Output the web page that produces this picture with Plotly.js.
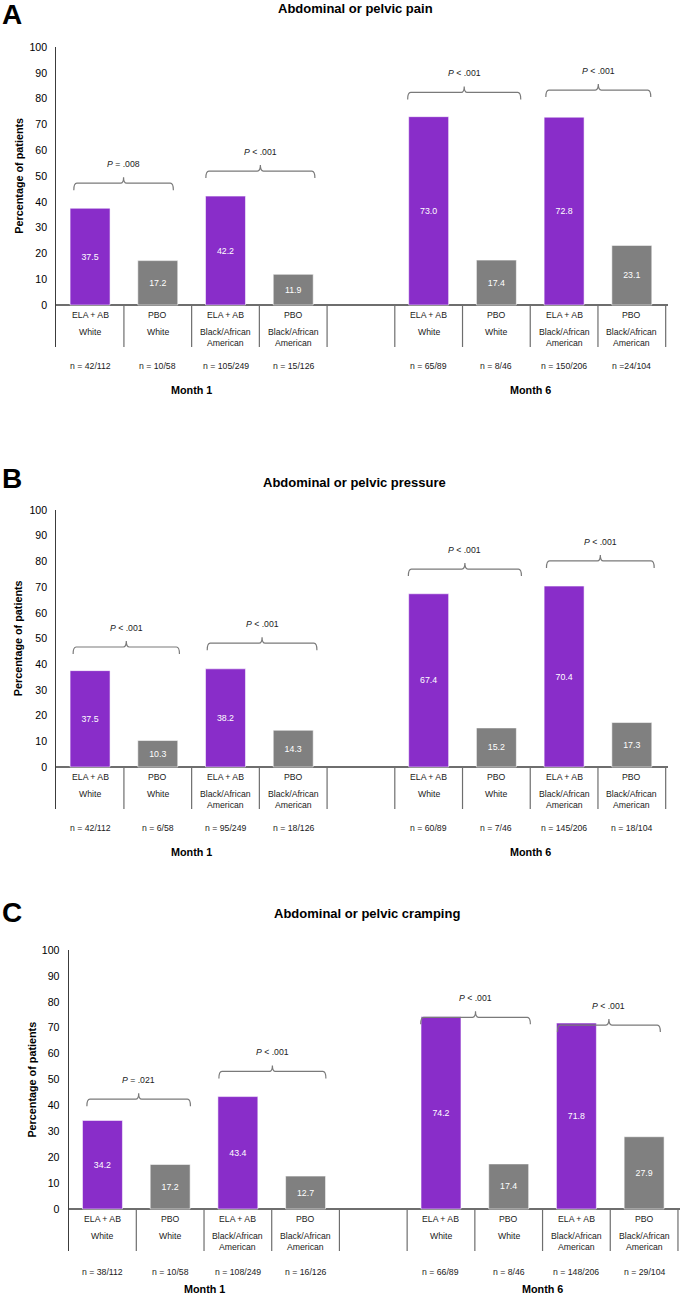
<!DOCTYPE html>
<html><head><meta charset="utf-8">
<script src="https://cdn.plot.ly/plotly-3.0.1.min.js"></script>
<style>html,body{margin:0;padding:0;background:#fff}#chart{width:680px;height:1298px}</style>
</head><body><div id="chart"></div>
<script>
// ---------- data ----------
const treatments = ['ELA + AB', 'PBO', 'ELA + AB', 'PBO', 'ELA + AB', 'PBO', 'ELA + AB', 'PBO'];
const races = ['White', 'White', 'Black/African<br>American', 'Black/African<br>American',
               'White', 'White', 'Black/African<br>American', 'Black/African<br>American'];
const months = ['Month 1', 'Month 6'];

const titleA = 'Abdominal or pelvic pain';
const titleB = 'Abdominal or pelvic pressure';
const titleC = 'Abdominal or pelvic cramping';

const painValues = [37.5, 17.2, 42.2, 11.9, 73.0, 17.4, 72.8, 23.1];
const pressureValues = [37.5, 10.3, 38.2, 14.3, 67.4, 15.2, 70.4, 17.3];
const crampingValues = [34.2, 17.2, 43.4, 12.7, 74.2, 17.4, 71.8, 27.9];

const painN = ['n = 42/112', 'n = 10/58', 'n = 105/249', 'n = 15/126', 'n = 65/89', 'n = 8/46', 'n = 150/206', 'n =24/104'];
const pressureN = ['n = 42/112', 'n = 6/58', 'n = 95/249', 'n = 18/126', 'n = 60/89', 'n = 7/46', 'n = 145/206', 'n = 18/104'];
const crampingN = ['n = 38/112', 'n = 10/58', 'n = 108/249', 'n = 16/126', 'n = 66/89', 'n = 8/46', 'n = 148/206', 'n = 29/104'];

const painP = ['= .008', '< .001', '< .001', '< .001'];
const pressureP = ['< .001', '< .001', '< .001', '< .001'];
const crampingP = ['= .021', '< .001', '< .001', '< .001'];

const yTicks = [0, 10, 20, 30, 40, 50, 60, 70, 80, 90, 100];

// ---------- layout config ----------
const W = 680, H = 1298;
const PURPLE = '#892dc9', GRAY = '#808080';
const FONT = 'Liberation Sans, Arial, Helvetica, sans-serif';
const UNIT = 67.72; // px per category

const panels = [
  {letter: 'A', title: titleA, values: painValues, n: painN, p: painP,
   brackets: [[-0.24, 1.23, 47.2], [1.71, 3.32, 51.9], [4.69, 6.36, 82.4], [6.73, 8.28, 83.3]],
   left: 56.2, top: 47, base: 305, bottom: 347, titleX: 355, titleY: 8, letterY: 14,
   nShift: -61, monthShift: -85},
  {letter: 'B', title: titleB, values: pressureValues, n: pressureN, p: pressureP,
   brackets: [[-0.25, 1.32, 46.7], [1.73, 3.35, 48.2], [4.70, 6.37, 77.0], [6.74, 8.33, 80.2]],
   left: 56.2, top: 510, base: 767, bottom: 809, titleX: 354.5, titleY: 482, letterY: 478,
   nShift: -61, monthShift: -85},
  {letter: 'C', title: titleC, values: crampingValues, n: crampingN, p: crampingP,
   brackets: [[-0.23, 1.30, 42.4], [1.72, 3.30, 53.1], [4.70, 6.32, 74.0], [6.72, 8.24, 71.0]],
   left: 68.6, top: 950, base: 1209, bottom: 1251, titleX: 367, titleY: 913, letterY: 912,
   nShift: -63, monthShift: -80}
];

const xs = treatments.map((_, i) => i + (i >= 4 ? 1 : 0));
const data = [];
const layout = {
  width: W, height: H, margin: {l: 0, r: 0, t: 0, b: 0},
  paper_bgcolor: '#fff', plot_bgcolor: 'rgba(0,0,0,0)',
  font: {family: FONT, color: '#000'},
  showlegend: false, annotations: [], shapes: []
};

panels.forEach((pn, k) => {
  const sfx = k === 0 ? '' : String(k + 1);
  const xa = 'x' + sfx, ya = 'y' + sfx;
  const pxPerUnit = (pn.base - pn.top) / 100;
  const yMin = -(pn.bottom - pn.base) / pxPerUnit;
  const xMax = 8.53;
  layout['xaxis' + sfx] = {
    domain: [pn.left / W, Math.min(1, (pn.left + (xMax + 0.5) * UNIT) / W)],
    range: [-0.5, xMax], showticklabels: false, showgrid: false, zeroline: false,
    showline: false, ticks: '', anchor: ya, fixedrange: true
  };
  layout['yaxis' + sfx] = {
    domain: [1 - pn.bottom / H, 1 - pn.top / H],
    range: [yMin, 100], tickvals: yTicks, ticktext: yTicks.map(String),
    showline: true, linecolor: '#3c3c3c', linewidth: 1, ticks: '', ticklabelstandoff: 6,
    showgrid: false, zeroline: true, zerolinecolor: '#6e6e6e', zerolinewidth: 1.5,
    tickfont: {size: 10.6, color: '#000', family: FONT}, anchor: xa, fixedrange: true
  };

  data.push({
    type: 'bar', x: xs, y: pn.values, xaxis: xa, yaxis: ya, width: 0.59,
    marker: {color: treatments.map(t => t === 'PBO' ? GRAY : PURPLE),
             line: {color: 'rgba(255,255,255,0.55)', width: 1}},
    text: pn.values.map(v => v.toFixed(1)), textposition: 'inside',
    insidetextanchor: 'middle', textangle: 0, constraintext: 'none',
    textfont: {color: '#fff', size: 8.8, family: FONT}, hoverinfo: 'skip'
  });

  // dividers under the axis
  for (let d = 0.5; d <= 8.5; d += 1) {
    layout.shapes.push({type: 'line', xref: xa, yref: ya, x0: d, x1: d, y0: yMin, y1: 0,
      line: {color: '#6e6e6e', width: 1.2}});
  }

  // category labels
  xs.forEach((x, i) => {
    const base = {xref: xa, yref: ya, x: x, y: 0, showarrow: false, xanchor: 'center',
                  font: {size: 8.7, color: '#1a1a1a', family: FONT}};
    layout.annotations.push(Object.assign({}, base, {text: treatments[i], yanchor: 'middle', yshift: -10}));
    layout.annotations.push(Object.assign({}, base, {text: races[i], yanchor: 'top', yshift: -20}));
    layout.annotations.push(Object.assign({}, base, {text: pn.n[i], yanchor: 'middle', yshift: pn.nShift}));
  });
  months.forEach((m, j) => {
    const grp = xs.slice(j * 4, j * 4 + 4);
    const cx = (grp[0] + grp[3]) / 2;
    layout.annotations.push({xref: xa, yref: ya, x: cx, y: 0, yshift: pn.monthShift, showarrow: false,
      text: '<b>' + m + '</b>', font: {size: 10.8, color: '#000', family: FONT}});
  });

  // brackets + P values
  pn.brackets.forEach((b, j) => {
    const [x0, x1, L] = b;
    const xm = (x0 + x1) / 2;
    const dn = 7 / pxPerUnit, up = 6 / pxPerUnit, r = 3 / UNIT;
    const path = `M ${x0},${L - dn} Q ${x0},${L} ${x0 + r},${L} L ${xm - r},${L} ` +
                 `Q ${xm},${L} ${xm},${L + up} Q ${xm},${L} ${xm + r},${L} ` +
                 `L ${x1 - r},${L} Q ${x1},${L} ${x1},${L - dn}`;
    layout.shapes.push({type: 'path', xref: xa, yref: ya, path: path,
      line: {color: '#7a7a7a', width: 1.2}});
    layout.annotations.push({xref: xa, yref: ya, x: xm, y: L, yshift: 19, showarrow: false,
      text: '<i>P</i> ' + pn.p[j].replace('<', '&lt;'),
      font: {size: 8.7, color: '#222', family: FONT}});
  });

  // y title
  layout.annotations.push({xref: 'paper', yref: ya, x: (pn.left - 37.5) / W, y: 50,
    textangle: -90, showarrow: false, xanchor: 'center', yanchor: 'middle',
    text: '<b>Percentage of patients</b>', font: {size: 10.8, color: '#000', family: FONT}});

  // panel title + letter
  layout.annotations.push({xref: 'paper', yref: 'paper', x: pn.titleX / W, y: 1 - pn.titleY / H,
    xanchor: 'center', yanchor: 'middle', showarrow: false,
    text: '<b>' + pn.title + '</b>', font: {size: 13, color: '#000', family: FONT}});
  layout.annotations.push({xref: 'paper', yref: 'paper', x: 0, y: 1 - pn.letterY / H,
    xanchor: 'left', yanchor: 'middle', showarrow: false,
    text: '<b>' + pn.letter + '</b>', font: {size: 28, color: '#000', family: FONT}});
});

Plotly.newPlot('chart', data, layout, {staticPlot: true, displayModeBar: false});
</script>
</body></html>
